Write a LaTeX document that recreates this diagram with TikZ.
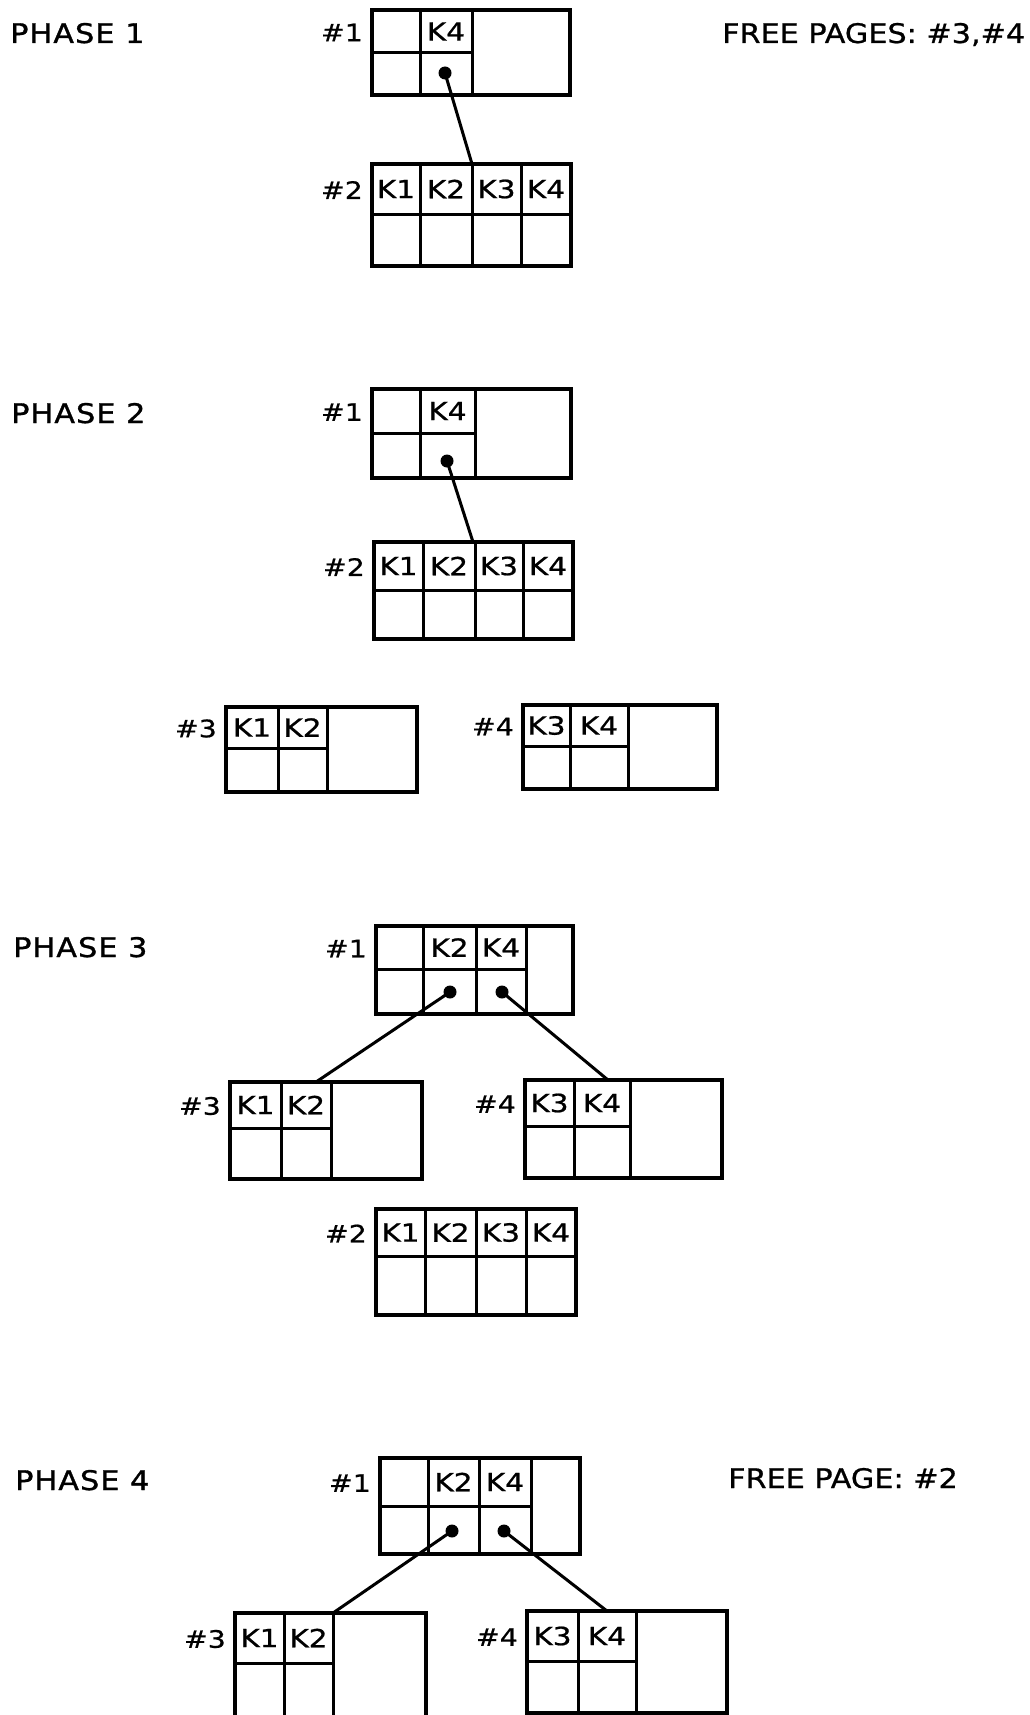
\documentclass[tikz,border=0pt]{standalone}
\usepackage{fontspec}
\setmainfont{DejaVu Sans}[FakeStretch=1.12, FakeBold=0.8]
\newfontfamily\keyfont{DejaVu Sans}[FakeStretch=1.18, FakeBold=0.8]
\newfontfamily\headfont{DejaVu Sans}[FakeStretch=1.12, FakeBold=1.2, LetterSpace=4]
\tikzset{
  pagebox/.style={draw, line width=3.5pt, rectangle, inner sep=0pt, outer sep=0pt},
  inner/.style={line width=3pt},
  conn/.style={line width=3pt},
  key/.style={inner sep=0pt, font=\keyfont\fontsize{25}{25}\selectfont},
  lbl/.style={inner sep=0pt, font=\keyfont\fontsize{24}{24}\selectfont},
  head/.style={inner sep=0pt, anchor=base west, font=\headfont\fontsize{27}{27}\selectfont},
  free/.style={inner sep=0pt, anchor=base west, font=\fontsize{27}{27}\selectfont},
  dotn/.style={circle, fill, inner sep=0pt, minimum size=13pt},
}
% #1 name, #2 L, #3 T, #4 R, #5 B, #6 middle y, #7 end of middle line, #8 label
\newcommand{\pg}[8]{%
  \node[pagebox, minimum width={#4-#2}, minimum height={#5-#3}, anchor=north west] (#1) at (#2,#3) {};
  \draw[inner] (#2,#6) -- (#7,#6);
  \node[lbl, anchor=east] (#1-lbl) at ({#2-9},{(#3+#6)/2+1}) {#8};
}
\newcommand{\vd}[3]{\foreach \xx in {#3} {\draw[inner] (\xx,#1) -- (\xx,#2);}}
\begin{document}
\begin{tikzpicture}[x=1pt, y=-1pt]
\useasboundingbox (0,0) rectangle (1030,1715);
\fill[white] (0,0) rectangle (1030,1715);
\clip (0,0) rectangle (1030,1715);

% ---------------- Phase 1
\node[head] (h1) at (10,43) {PHASE 1};
\node[free] (f1) at (722,43) {FREE PAGES: \#3,\#4};
\pg{a1}{372}{10}{570}{95}{53}{472}{\#1}
\vd{10}{95}{420,472}
\node[key] (a1k2) at (446,31.5) {K4};
\node[dotn] (a1d) at (445,73) {};
\pg{a2}{372}{164}{571}{266}{214}{571}{\#2}
\vd{164}{266}{420,472,521}
\node[key] (a2k1) at (396,189) {K1};
\node[key] (a2k2) at (446,189) {K2};
\node[key] (a2k3) at (496.5,189) {K3};
\node[key] (a2k4) at (546,189) {K4};
\coordinate (a2t) at (472,164);
\draw[conn] (a1d.center) -- (a2t);

% ---------------- Phase 2
\node[head] (h2) at (11,423) {PHASE 2};
\pg{b1}{372}{389}{571}{478}{433}{475}{\#1}
\vd{389}{478}{420,475}
\node[key] (b1k2) at (447.5,411) {K4};
\node[dotn] (b1d) at (447,461) {};
\pg{b2}{374}{542}{573}{639}{590}{573}{\#2}
\vd{542}{639}{423,475,523}
\node[key] (b2k1) at (398.5,566) {K1};
\node[key] (b2k2) at (449,566) {K2};
\node[key] (b2k3) at (499,566) {K3};
\node[key] (b2k4) at (548,566) {K4};
\coordinate (b2t) at (473,542);
\draw[conn] (b1d.center) -- (b2t);
\pg{b3}{226}{707}{417}{792}{748}{327}{\#3}
\vd{707}{792}{278,327}
\node[key] (b3k1) at (252,727.5) {K1};
\node[key] (b3k2) at (302.5,727.5) {K2};
\pg{b4}{523}{705}{717}{789}{746}{628}{\#4}
\vd{705}{789}{570,628}
\node[key] (b4k1) at (546.5,725.5) {K3};
\node[key] (b4k2) at (599,725.5) {K4};

% ---------------- Phase 3
\node[head] (h3) at (13,957) {PHASE 3};
\pg{c1}{376}{926}{573}{1014}{969}{526}{\#1}
\vd{926}{1014}{423,476,526}
\node[key] (c1k2) at (449.5,947.5) {K2};
\node[key] (c1k3) at (501,947.5) {K4};
\node[dotn] (c1d1) at (450,992) {};
\node[dotn] (c1d2) at (502,992) {};
\pg{c3}{230}{1082}{422}{1179}{1128}{331}{\#3}
\vd{1082}{1179}{281,331}
\node[key] (c3k1) at (255.5,1105) {K1};
\node[key] (c3k2) at (306,1105) {K2};
\pg{c4}{525}{1080}{722}{1178}{1126}{630}{\#4}
\vd{1080}{1178}{574,630}
\node[key] (c4k1) at (549.5,1103) {K3};
\node[key] (c4k2) at (602,1103) {K4};
\coordinate (c3t) at (316,1082);
\coordinate (c4t) at (608,1080);
\draw[conn] (c1d1.center) -- (c3t);
\draw[conn] (c1d2.center) -- (c4t);
\pg{c2}{376}{1209}{576}{1315}{1256}{576}{\#2}
\vd{1209}{1315}{425,476,526}
\node[key] (c2k1) at (400.5,1232.5) {K1};
\node[key] (c2k2) at (450.5,1232.5) {K2};
\node[key] (c2k3) at (501,1232.5) {K3};
\node[key] (c2k4) at (551,1232.5) {K4};

% ---------------- Phase 4
\node[head] (h4) at (15,1490) {PHASE 4};
\node[free] (f4) at (728,1488) {FREE PAGE: \#2};
\pg{d1}{380}{1458}{580}{1554}{1506}{531}{\#1}
\vd{1458}{1554}{428,479,531}
\node[key] (d1k2) at (453.5,1482) {K2};
\node[key] (d1k3) at (505,1482) {K4};
\node[dotn] (d1d1) at (452,1531) {};
\node[dotn] (d1d2) at (504,1531) {};
\pg{d3}{235}{1613}{426}{1725}{1663}{333}{\#3}
\vd{1613}{1725}{284,333}
\node[key] (d3k1) at (259.5,1638) {K1};
\node[key] (d3k2) at (308.5,1638) {K2};
\pg{d4}{527}{1611}{727}{1713}{1661}{636}{\#4}
\vd{1611}{1713}{578,636}
\node[key] (d4k1) at (552.5,1636) {K3};
\node[key] (d4k2) at (607,1636) {K4};
\coordinate (d3t) at (333,1613);
\coordinate (d4t) at (607,1611);
\draw[conn] (d1d1.center) -- (d3t);
\draw[conn] (d1d2.center) -- (d4t);
\end{tikzpicture}
\end{document}
